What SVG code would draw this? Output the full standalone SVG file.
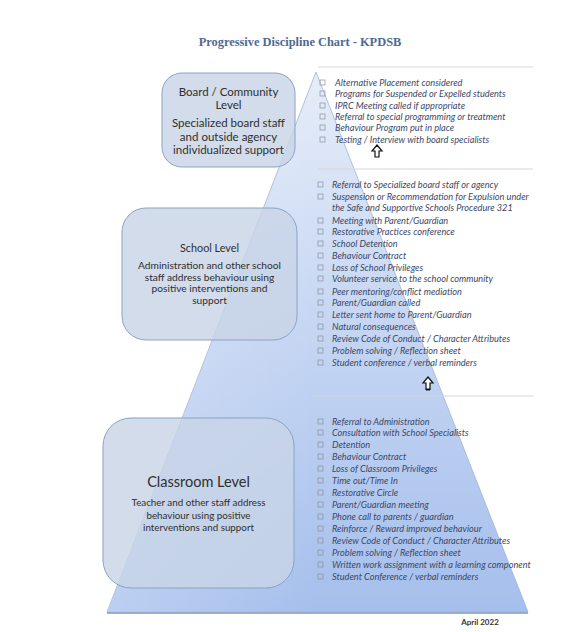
<svg xmlns="http://www.w3.org/2000/svg" width="578" height="632" viewBox="0 0 578 632">
<style>
.title{font-family:"Liberation Serif",serif;font-weight:bold;font-size:12.4px;fill:#4e6a92}
.item{font-family:Lato,"Liberation Sans",sans-serif;font-style:italic;font-size:9.2px;fill:#3d4866}
.cb{fill:none;stroke:#8a8f9a;stroke-width:0.7}
.box{fill:#c8d4e6;fill-opacity:0.82;stroke:#8aa3c6;stroke-width:1}
.bt{font-family:Lato,"Liberation Sans",sans-serif;fill:#2f2f2f;text-anchor:middle}
.sep{stroke:#d3d6db;stroke-width:1}
.arr{fill:#fff;stroke:#111;stroke-width:1.2;stroke-linejoin:miter}
</style>
<defs>
<linearGradient id="tri" x1="0" y1="0" x2="0" y2="1">
<stop offset="0" stop-color="#e6edf9"/>
<stop offset="0.45" stop-color="#c7d7f3"/>
<stop offset="1" stop-color="#a5bfec"/>
</linearGradient>
<linearGradient id="triH" x1="0" y1="0" x2="1" y2="0">
<stop offset="0" stop-color="#ffffff" stop-opacity="0.25"/>
<stop offset="0.5" stop-color="#ffffff" stop-opacity="0"/>
<stop offset="1" stop-color="#ffffff" stop-opacity="0"/>
</linearGradient>
</defs>
<rect width="578" height="632" fill="#fff"/>
<text class="title" x="300" y="46" text-anchor="middle">Progressive Discipline Chart - KPDSB</text>

<g id="pyramid">
<polygon points="316,72 107,612 528,612" fill="url(#tri)" stroke="#9fb4d6" stroke-width="0.8"/>
<polygon points="316,72 107,612 528,612" fill="url(#triH)"/>
<line x1="107" y1="613" x2="528" y2="613" stroke="#8096ba" stroke-width="1.5"/>
</g>

<g id="separators">
<line class="sep" x1="318" y1="67" x2="533" y2="67"/>
<line class="sep" x1="318" y1="169" x2="533" y2="169"/>
<line class="sep" x1="313" y1="396" x2="533" y2="396"/>
</g>

<g id="board-level">
<rect class="box" x="162" y="73" width="133" height="94" rx="20"/>
<text class="bt" font-size="11.5" x="228.5" y="96">Board / Community</text>
<text class="bt" font-size="11.5" x="228.5" y="109">Level</text>
<text class="bt" font-size="11.5" x="228.5" y="127">Specialized board staff</text>
<text class="bt" font-size="11.5" x="228.5" y="141">and outside agency</text>
<text class="bt" font-size="11.5" x="228.5" y="154">individualized support</text>
</g>

<g id="school-level">
<rect class="box" x="122" y="208" width="175" height="132" rx="24"/>
<text class="bt" font-size="10.8" x="209.5" y="252">School Level</text>
<text class="bt" font-size="10.2" x="209.5" y="268.5">Administration and other school</text>
<text class="bt" font-size="10.2" x="209.5" y="280.5">staff address behaviour using</text>
<text class="bt" font-size="10.2" x="209.5" y="292">positive interventions and</text>
<text class="bt" font-size="10.2" x="209.5" y="304">support</text>
</g>

<g id="classroom-level">
<rect class="box" x="103" y="418" width="191" height="170" rx="28"/>
<text class="bt" font-size="14.5" x="198.5" y="487">Classroom  Level</text>
<text class="bt" font-size="9.8" x="198.5" y="506">Teacher and other staff address</text>
<text class="bt" font-size="9.8" x="198.5" y="519">behaviour using positive</text>
<text class="bt" font-size="9.8" x="198.5" y="531">interventions and support</text>
</g>

<g id="board-list">
<rect class="cb" x="320" y="80" width="5" height="5"/><text class="item" x="335" y="86">Alternative Placement considered</text>
<rect class="cb" x="320" y="91" width="5" height="5"/><text class="item" x="335" y="97">Programs for Suspended or Expelled students</text>
<rect class="cb" x="320" y="103" width="5" height="5"/><text class="item" x="335" y="109">IPRC Meeting called if appropriate</text>
<rect class="cb" x="320" y="114" width="5" height="5"/><text class="item" x="335" y="120">Referral to special programming or treatment</text>
<rect class="cb" x="320" y="125" width="5" height="5"/><text class="item" x="335" y="131">Behaviour Program put in place</text>
<rect class="cb" x="320" y="137" width="5" height="5"/><text class="item" x="335" y="143">Testing / Interview with board specialists</text>
</g>

<g id="school-list">
<rect class="cb" x="318" y="182" width="5" height="5"/><text class="item" x="332" y="188">Referral to Specialized board staff or agency</text>
<rect class="cb" x="318" y="194" width="5" height="5"/><text class="item" x="332" y="200">Suspension or Recommendation for Expulsion under</text>
<text class="item" x="332" y="211">the Safe and Supportive Schools Procedure 321</text>
<rect class="cb" x="318" y="218" width="5" height="5"/><text class="item" x="332" y="224">Meeting with Parent/Guardian</text>
<rect class="cb" x="318" y="229" width="5" height="5"/><text class="item" x="332" y="235">Restorative Practices conference</text>
<rect class="cb" x="318" y="241" width="5" height="5"/><text class="item" x="332" y="247">School Detention</text>
<rect class="cb" x="318" y="253" width="5" height="5"/><text class="item" x="332" y="259">Behaviour Contract</text>
<rect class="cb" x="318" y="265" width="5" height="5"/><text class="item" x="332" y="271">Loss of School Privileges</text>
<rect class="cb" x="318" y="276" width="5" height="5"/><text class="item" x="332" y="282">Volunteer service to the school community</text>
<rect class="cb" x="318" y="289" width="5" height="5"/><text class="item" x="332" y="295">Peer mentoring/conflict mediation</text>
<rect class="cb" x="318" y="300" width="5" height="5"/><text class="item" x="332" y="306">Parent/Guardian called</text>
<rect class="cb" x="318" y="312" width="5" height="5"/><text class="item" x="332" y="318">Letter sent home to Parent/Guardian</text>
<rect class="cb" x="318" y="324" width="5" height="5"/><text class="item" x="332" y="330">Natural consequences</text>
<rect class="cb" x="318" y="336" width="5" height="5"/><text class="item" x="332" y="342">Review Code of Conduct / Character Attributes</text>
<rect class="cb" x="318" y="348" width="5" height="5"/><text class="item" x="332" y="354">Problem solving / Reflection sheet</text>
<rect class="cb" x="318" y="360" width="5" height="5"/><text class="item" x="332" y="366">Student conference / verbal reminders</text>
</g>

<g id="classroom-list">
<rect class="cb" x="318" y="419" width="5" height="5"/><text class="item" x="332" y="425">Referral to Administration</text>
<rect class="cb" x="318" y="430" width="5" height="5"/><text class="item" x="332" y="436">Consultation with School Specialists</text>
<rect class="cb" x="318" y="442" width="5" height="5"/><text class="item" x="332" y="448">Detention</text>
<rect class="cb" x="318" y="454" width="5" height="5"/><text class="item" x="332" y="460">Behaviour Contract</text>
<rect class="cb" x="318" y="466" width="5" height="5"/><text class="item" x="332" y="472">Loss of Classroom Privileges</text>
<rect class="cb" x="318" y="478" width="5" height="5"/><text class="item" x="332" y="484">Time out/Time In</text>
<rect class="cb" x="318" y="490" width="5" height="5"/><text class="item" x="332" y="496">Restorative Circle</text>
<rect class="cb" x="318" y="502" width="5" height="5"/><text class="item" x="332" y="508">Parent/Guardian meeting</text>
<rect class="cb" x="318" y="514" width="5" height="5"/><text class="item" x="332" y="520">Phone call to parents / guardian</text>
<rect class="cb" x="318" y="526" width="5" height="5"/><text class="item" x="332" y="532">Reinforce / Reward improved behaviour</text>
<rect class="cb" x="318" y="538" width="5" height="5"/><text class="item" x="332" y="544">Review Code of Conduct / Character Attributes</text>
<rect class="cb" x="318" y="550" width="5" height="5"/><text class="item" x="332" y="556">Problem solving / Reflection sheet</text>
<rect class="cb" x="318" y="562" width="5" height="5"/><text class="item" x="332" y="568">Written work assignment with a learning component</text>
<rect class="cb" x="318" y="574" width="5" height="5"/><text class="item" x="332" y="580">Student Conference / verbal reminders</text>
</g>

<g id="connectors">
<path class="arr" d="M377,145 L382,151 L379,151 L379,157 L375,157 L375,151 L372,151 Z"/>
<path class="arr" d="M428,377 L433,383 L430,383 L430,389.5 L426,389.5 L426,383 L423,383 Z"/>
<line x1="426" y1="389.5" x2="430" y2="389.5" stroke="#111" stroke-width="2"/>
</g>

<text x="480" y="625" text-anchor="middle" font-family="Lato,'Liberation Sans',sans-serif" font-size="8px" font-weight="bold" fill="#333">April 2022</text>
</svg>
